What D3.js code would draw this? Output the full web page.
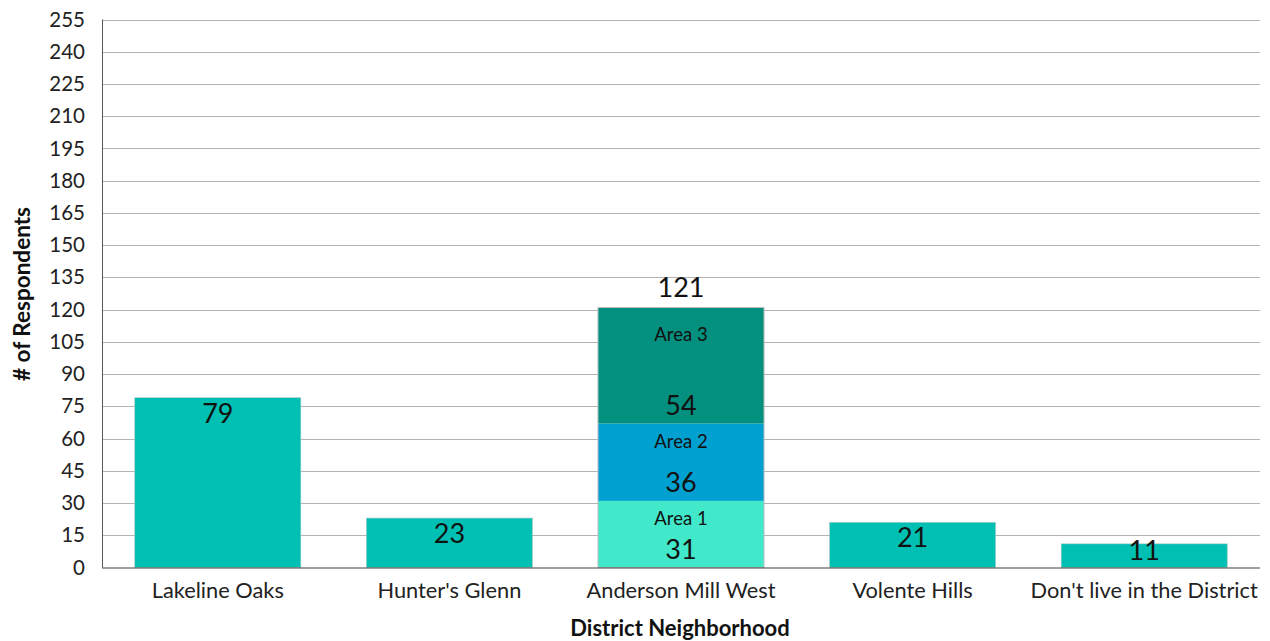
<!DOCTYPE html>
<html><head><meta charset="utf-8">
<script src="https://cdn.jsdelivr.net/npm/d3@7"></script>
<style>body{margin:0;background:#fff}svg{display:block;font-family:Lato,"Open Sans",sans-serif}</style>
</head><body>
<svg id="c" width="1270" height="641"></svg>
<script>
const categories = ["Lakeline Oaks","Hunter's Glenn","Anderson Mill West","Volente Hills","Don't live in the District"];
const totals = [79, 23, 121, 21, 11];
const stackCategory = "Anderson Mill West";
const areaNames = ["Area 1","Area 2","Area 3"];
const areaValues = [31, 36, 54];
const yTicks = d3.range(0, 256, 15);
const yTitle = "# of Respondents";
const xTitle = "District Neighborhood";

const baseColor = "#00BFB3";
const areaColors = ["#41E8CA", "#00A1D1", "#03907F"];

const svg = d3.select("#c");
const m = {left:102, right:1260, top:19.5, bottom:567.5};
const x = d3.scaleBand().domain(categories).range([m.left, m.right]).paddingInner(0.283).paddingOuter(0.1415);
const y = d3.scaleLinear().domain([0,255]).range([m.bottom, m.top]);

// grid
svg.append("g").selectAll("line").data(yTicks.filter(d=>d>0)).join("line")
  .attr("x1", m.left).attr("x2", m.right)
  .attr("y1", d=>Math.round(y(d))+0.5).attr("y2", d=>Math.round(y(d))+0.5)
  .attr("stroke", "#b3b3b3").attr("stroke-width", 1);

// y axis
const ya = svg.append("g").attr("transform", `translate(${m.left},0)`)
  .call(d3.axisLeft(y).tickValues(yTicks).tickSize(0).tickPadding(17).tickFormat(d3.format("d")));
ya.select(".domain").remove();
ya.selectAll("text").attr("font-size", 20.5).attr("fill", "#222").attr("font-family", "Lato,'Open Sans',sans-serif");
svg.append("line").attr("x1", m.left+0.5).attr("x2", m.left+0.5).attr("y1", m.top).attr("y2", m.bottom)
  .attr("stroke", "#595959");

// bars
const single = categories.map((c,i)=>({c, v: totals[i]})).filter(d=>d.c !== stackCategory);
svg.append("g").selectAll("rect").data(single).join("rect")
  .attr("x", d=>x(d.c)).attr("width", x.bandwidth())
  .attr("y", d=>y(d.v)).attr("height", d=>y(0)-y(d.v))
  .attr("fill", baseColor).attr("stroke", "#a8c8c4").attr("stroke-width", 0.6);
svg.append("g").selectAll("text").data(single).join("text")
  .attr("x", d=>x(d.c)+x.bandwidth()/2)
  .attr("y", d=>Math.min(y(d.v)+25, y(0)-8))
  .attr("text-anchor","middle").attr("font-size", 27).attr("fill","#111").text(d=>d.v);

// stacked
let acc = 0;
const segs = areaValues.map((v,i)=>{const s={name:areaNames[i], v, y0:acc, y1:acc+v, color:areaColors[i]}; acc+=v; return s;});
const sx = x(stackCategory);
const sg = svg.append("g");
sg.selectAll("rect").data(segs).join("rect")
  .attr("x", sx).attr("width", x.bandwidth())
  .attr("y", d=>y(d.y1)).attr("height", d=>y(d.y0)-y(d.y1))
  .attr("fill", d=>d.color);
sg.append("rect").attr("x", sx).attr("width", x.bandwidth())
  .attr("y", y(acc)).attr("height", y(0)-y(acc))
  .attr("fill","none").attr("stroke","#bdbdbd").attr("stroke-width",1);
const nameOffsets = [24, 24, 34];
sg.selectAll("text.val").data(segs).join("text").attr("class","val")
  .attr("x", sx+x.bandwidth()/2).attr("y", d=>y(d.y0)-9)
  .attr("text-anchor","middle").attr("font-size", 27).attr("fill","#111").text(d=>d.v);
sg.selectAll("text.nm").data(segs).join("text").attr("class","nm")
  .attr("x", sx+x.bandwidth()/2).attr("y", (d,i)=>y(d.y1)+nameOffsets[i])
  .attr("text-anchor","middle").attr("font-size", 18.5).attr("fill","#111").text(d=>d.name);
sg.append("text").attr("x", sx+x.bandwidth()/2).attr("y", y(acc)-10)
  .attr("text-anchor","middle").attr("font-size", 27).attr("fill","#111")
  .text(totals[categories.indexOf(stackCategory)]);

// x axis
svg.append("line").attr("x1", m.left).attr("x2", m.right).attr("y1", m.bottom+0.5).attr("y2", m.bottom+0.5)
  .attr("stroke", "#404040").attr("stroke-width", 1.2);
svg.append("g").selectAll("text").data(categories).join("text")
  .attr("x", d=>x(d)+x.bandwidth()/2).attr("y", 598)
  .attr("text-anchor","middle").attr("font-size", 21.8).attr("fill","#222").text(d=>d);

// titles
svg.append("text").attr("x", 680).attr("y", 636).attr("text-anchor","middle")
  .attr("font-size", 22).attr("font-weight","bold").attr("fill","#111").text(xTitle);
svg.append("text").attr("transform", "translate(30,294) rotate(-90)").attr("text-anchor","middle")
  .attr("font-size", 22.5).attr("font-weight","bold").attr("fill","#111").text(yTitle);
</script>
</body></html>
